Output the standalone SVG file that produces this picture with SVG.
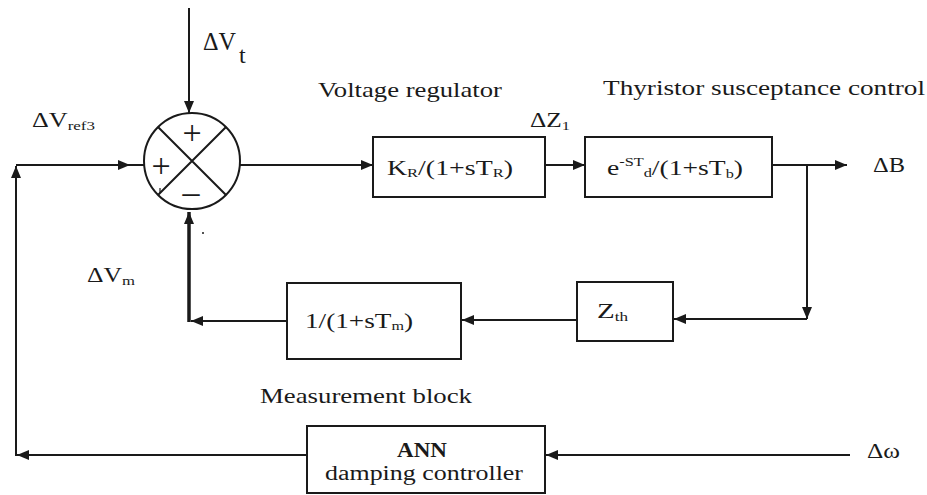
<svg xmlns="http://www.w3.org/2000/svg" width="927" height="495" viewBox="0 0 927 495">
<style>
text{font-family:"Liberation Serif","Times New Roman",serif;fill:#1a1a1a}
.lbl{font-size:20px}
.big{font-size:22px}
.sub{font-size:13px}
.box{fill:#fff;stroke:#1a1a1a;stroke-width:2}
.ln{fill:none;stroke:#1a1a1a;stroke-width:2}
</style>
<defs>
<marker id="ah" viewBox="0 0 12 10" refX="12" refY="5" markerWidth="12" markerHeight="10" markerUnits="userSpaceOnUse" orient="auto">
<path d="M0,0 L12,5 L0,10 z" fill="#1a1a1a"/>
</marker>
</defs>
<rect width="927" height="495" fill="#fff"/>

<g id="connectors">
<path class="ln" d="M189,8 V113" marker-end="url(#ah)"/>
<path class="ln" d="M16,165 H130" marker-end="url(#ah)"/>
<path class="ln" d="M129,165 H144"/>
<path class="ln" d="M240,165 H373" marker-end="url(#ah)"/>
<path class="ln" d="M545,165 H585" marker-end="url(#ah)"/>
<path class="ln" d="M772,165 H847" marker-end="url(#ah)"/>
<path class="ln" d="M807,165 V319" marker-end="url(#ah)"/>
<path class="ln" d="M807,319 H674" marker-end="url(#ah)"/>
<path class="ln" d="M577,320 H462" marker-end="url(#ah)"/>
<path class="ln" d="M287,321 H191" marker-end="url(#ah)"/>
<path class="ln" d="M189,322 V212" style="stroke-width:3.5" marker-end="url(#ah)"/>
<path class="ln" d="M850,455 H546" marker-end="url(#ah)"/>
<path class="ln" d="M307,455 H17" marker-end="url(#ah)"/>
<path class="ln" d="M16,456 V166" marker-end="url(#ah)"/>
</g>

<g id="sum">
<circle cx="192" cy="161" r="48" class="box"/>
<path class="ln" d="M158,127 L226,195 M226,127 L158,195"/>
<text x="192" y="144" font-size="34" text-anchor="middle">+</text>
<text x="161" y="177" font-size="34" text-anchor="middle">+</text>
<text x="191" y="203" font-size="34" text-anchor="middle">–</text>
<path class="ln" d="M160,188 V193" style="stroke-width:1.2"/>
</g>

<g id="voltage-regulator">
<rect x="373" y="137" width="172" height="60" class="box"/>
<text x="387" y="175" class="big" textLength="126" lengthAdjust="spacingAndGlyphs">K<tspan class="sub" dy="2">R</tspan><tspan dy="-2">/(1+sT</tspan><tspan class="sub" dy="2">R</tspan><tspan dy="-2">)</tspan></text>
</g>

<g id="thyristor">
<rect x="585" y="137" width="187" height="60" class="box"/>
<text x="607" y="175" class="big" textLength="136" lengthAdjust="spacingAndGlyphs">e<tspan class="sub" dy="-9">-ST</tspan><tspan class="sub" dy="11">d</tspan><tspan dy="-2">/(1+sT</tspan><tspan class="sub" dy="3">b</tspan><tspan dy="-3">)</tspan></text>
</g>

<g id="zth">
<rect x="577" y="282" width="96" height="59" class="box"/>
<text x="597" y="318" class="big" textLength="31" lengthAdjust="spacingAndGlyphs">Z<tspan class="sub" dy="3">th</tspan></text>
</g>

<g id="measurement">
<rect x="287" y="283" width="174" height="76" class="box"/>
<text x="305" y="328" class="big" textLength="108" lengthAdjust="spacingAndGlyphs">1/(1+sT<tspan class="sub" dy="2">m</tspan><tspan dy="-2">)</tspan></text>
</g>

<g id="ann">
<rect x="307" y="426" width="238" height="67" class="box"/>
<text x="397" y="457" class="lbl" font-weight="bold" textLength="50" lengthAdjust="spacingAndGlyphs">ANN</text>
<text x="325" y="480" class="lbl" textLength="198" lengthAdjust="spacingAndGlyphs">damping controller</text>
</g>

<g id="labels">
<text x="203" y="50" font-size="26" textLength="33" lengthAdjust="spacingAndGlyphs">ΔV</text>
<text x="239" y="63" font-size="24">t</text>
<text x="32" y="127" class="lbl" textLength="63" lengthAdjust="spacingAndGlyphs">ΔV<tspan class="sub" dy="3">ref3</tspan></text>
<text x="318" y="97" class="big" textLength="184" lengthAdjust="spacingAndGlyphs">Voltage regulator</text>
<text x="603" y="95" class="big" textLength="322" lengthAdjust="spacingAndGlyphs">Thyristor susceptance control</text>
<text x="530" y="127" class="lbl" textLength="40" lengthAdjust="spacingAndGlyphs">ΔZ<tspan class="sub" dy="3">1</tspan></text>
<text x="873" y="172" class="lbl" textLength="32" lengthAdjust="spacingAndGlyphs">ΔB</text>
<text x="87" y="282" class="lbl" textLength="48" lengthAdjust="spacingAndGlyphs">ΔV<tspan class="sub" dy="3">m</tspan></text>
<text x="260" y="403" class="big" textLength="212" lengthAdjust="spacingAndGlyphs">Measurement block</text>
<text x="867" y="458" class="lbl" textLength="33" lengthAdjust="spacingAndGlyphs">Δω</text>
<circle cx="203" cy="233" r="1" fill="#1a1a1a"/>
</g>
</svg>
